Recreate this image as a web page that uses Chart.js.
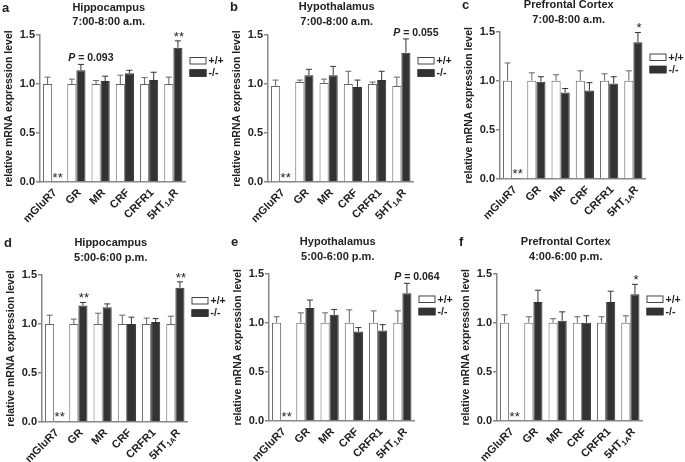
<!DOCTYPE html>
<html>
<head>
<meta charset="utf-8">
<script src="https://cdn.jsdelivr.net/npm/chart.js@4.4.0/dist/chart.umd.min.js"></script>
<style>
body { margin: 0; background: #fff; }
#wrap { position: relative; width: 685px; height: 462px; overflow: hidden; }
.panel { position: absolute; width: 228px; }
</style>
</head>
<body>
<div id="wrap"></div>
<script>
// genes on the x axis, "_" marks the subscript part
const categories = ['mGluR7', 'GR', 'MR', 'CRF', 'CRFR1', '5HT_1A_R'];
const yTicks = [0, 0.5, 1.0, 1.5];
const seriesNames = ['+/+', '-/-'];
const letters = ['a', 'b', 'c', 'd', 'e', 'f'];
const regions = ['Hippocampus', 'Hypothalamus', 'Prefrontal Cortex', 'Hippocampus', 'Hypothalamus', 'Prefrontal Cortex'];
const times = ['7:00-8:00 a.m.', '7:00-8:00 a.m.', '7:00-8:00 a.m.', '5:00-6:00 p.m.', '5:00-6:00 p.m.', '4:00-6:00 p.m.'];

// a - hippocampus morning
const hipAmWt = [1.0, 1.0, 1.0, 1.0, 1.0, 1.0];
const hipAmWtSem = [0.07, 0.05, 0.035, 0.09, 0.065, 0.07];
const hipAmKo = [0.005, 1.14, 1.03, 1.11, 1.04, 1.37];
const hipAmKoSem = [0, 0.06, 0.05, 0.03, 0.08, 0.07];
const hipAmMarks = [[0, 1, '**'], [1, 0, 'P = 0.093'], [5, 1, '**']];

// b - hypothalamus morning
const hypAmWt = [0.98, 1.02, 1.01, 1.0, 1.0, 0.98];
const hypAmWtSem = [0.06, 0.02, 0.04, 0.13, 0.02, 0.09];
const hypAmKo = [0.005, 1.09, 1.09, 0.97, 1.04, 1.32];
const hypAmKoSem = [0, 0.06, 0.09, 0.07, 0.09, 0.14];
const hypAmMarks = [[0, 1, '**'], [5, 0, 'P = 0.055']];

// c - prefrontal cortex morning
const pfcAmWt = [1.0, 1.0, 1.0, 1.0, 1.0, 1.0];
const pfcAmWtSem = [0.18, 0.08, 0.06, 0.10, 0.07, 0.10];
const pfcAmKo = [0.01, 0.99, 0.88, 0.90, 0.97, 1.39];
const pfcAmKoSem = [0, 0.05, 0.04, 0.08, 0.07, 0.10];
const pfcAmMarks = [[0, 1, '**'], [5, 1, '*']];

// d - hippocampus evening
const hipPmWt = [1.0, 1.0, 1.0, 1.0, 1.0, 1.0];
const hipPmWtSem = [0.09, 0.05, 0.11, 0.09, 0.06, 0.08];
const hipPmKo = [0.01, 1.19, 1.17, 1.0, 1.02, 1.37];
const hipPmKoSem = [0, 0.03, 0.035, 0.07, 0.035, 0.06];
const hipPmMarks = [[0, 1, '**'], [1, 1, '**'], [5, 1, '**']];

// e - hypothalamus evening
const hypPmWt = [1.0, 1.0, 1.0, 1.0, 1.0, 1.0];
const hypPmWtSem = [0.06, 0.10, 0.10, 0.13, 0.12, 0.12];
const hypPmKo = [0.005, 1.15, 1.08, 0.91, 0.92, 1.30];
const hypPmKoSem = [0, 0.08, 0.055, 0.04, 0.06, 0.10];
const hypPmMarks = [[0, 1, '**'], [5, 0, 'P = 0.064']];

// f - prefrontal cortex evening
const pfcPmWt = [1.0, 1.0, 1.0, 1.0, 1.0, 1.0];
const pfcPmWtSem = [0.08, 0.06, 0.04, 0.06, 0.06, 0.07];
const pfcPmKo = [0.005, 1.21, 1.02, 1.0, 1.21, 1.29];
const pfcPmKoSem = [0, 0.12, 0.09, 0.07, 0.11, 0.10];
const pfcPmMarks = [[0, 1, '**'], [5, 1, '*']];

const panels = [
    { wt: hipAmWt, wtSem: hipAmWtSem, ko: hipAmKo, koSem: hipAmKoSem, marks: hipAmMarks },
    { wt: hypAmWt, wtSem: hypAmWtSem, ko: hypAmKo, koSem: hypAmKoSem, marks: hypAmMarks },
    { wt: pfcAmWt, wtSem: pfcAmWtSem, ko: pfcAmKo, koSem: pfcAmKoSem, marks: pfcAmMarks },
    { wt: hipPmWt, wtSem: hipPmWtSem, ko: hipPmKo, koSem: hipPmKoSem, marks: hipPmMarks },
    { wt: hypPmWt, wtSem: hypPmWtSem, ko: hypPmKo, koSem: hypPmKoSem, marks: hypPmMarks },
    { wt: pfcPmWt, wtSem: pfcPmWtSem, ko: pfcPmKo, koSem: pfcPmKoSem, marks: pfcPmMarks }
];

// canvas offset on the page, top padding above the plot, y of the first title line
const placement = [
    { x: 0, y: 0, pad: 35, head: 7.5 },
    { x: 228, y: 0, pad: 35, head: 7 },
    { x: 460, y: 0, pad: 31.5, head: 5 },
    { x: 1.5, y: 230, pad: 45, head: 13 },
    { x: 229, y: 230, pad: 43.5, head: 12 },
    { x: 457, y: 230, pad: 43.5, head: 12 }
];

const FAMILY = "'Liberation Sans', Arial, sans-serif";
const INK = '#222';
const AXIS = '#888';

function drawXLabel(ctx, label, x, y) {
    const parts = label.split('_');
    const fonts = parts.map((s, i) => i % 2 ? 'bold 7.5px ' + FAMILY : 'bold 11px ' + FAMILY);
    const widths = parts.map((s, i) => { ctx.font = fonts[i]; return ctx.measureText(s).width; });
    const total = widths.reduce((a, b) => a + b, 0);
    ctx.save();
    ctx.translate(x, y);
    ctx.rotate(-Math.PI / 4);
    ctx.textAlign = 'left';
    ctx.textBaseline = 'middle';
    ctx.fillStyle = INK;
    let cx = -total;
    parts.forEach((s, i) => {
        ctx.font = fonts[i];
        ctx.fillText(s, cx, i % 2 ? 3 : 0);
        cx += widths[i];
    });
    ctx.restore();
}

function decor(idx, panel, place) {
    return {
        id: 'decor' + idx,
        afterDraw(chart) {
            const ctx = chart.ctx;
            const area = chart.chartArea;
            const yScale = chart.scales.y;
            const xScale = chart.scales.x;
            const sets = chart.data.datasets;
            ctx.save();

            // error bars (upper only)
            sets.forEach((ds, di) => {
                chart.getDatasetMeta(di).data.forEach((bar, i) => {
                    if (!ds.sem[i]) return;
                    const yTop = yScale.getPixelForValue(ds.data[i] + ds.sem[i]);
                    ctx.strokeStyle = ds.borderColor;
                    ctx.lineWidth = 1;
                    ctx.beginPath();
                    ctx.moveTo(bar.x, bar.y);
                    ctx.lineTo(bar.x, yTop);
                    ctx.moveTo(bar.x - 3, yTop);
                    ctx.lineTo(bar.x + 3, yTop);
                    ctx.stroke();
                });
            });

            // x tick labels
            categories.forEach((c, i) => {
                drawXLabel(ctx, c, xScale.getPixelForValue(i) + 3, area.bottom + 9);
            });

            // panel letter and titles
            const mid = (area.left + area.right) / 2 - 4;
            ctx.fillStyle = INK;
            ctx.textBaseline = 'middle';
            ctx.textAlign = 'left';
            ctx.font = 'bold 13px ' + FAMILY;
            ctx.fillText(letters[idx], 2, place.head + 0.5);
            ctx.textAlign = 'center';
            ctx.font = 'bold 11px ' + FAMILY;
            ctx.fillText(regions[idx], mid, place.head);
            ctx.fillText(times[idx], mid, place.head + 14.5);

            // legend
            const lx = area.right + 4;
            sets.forEach((ds, di) => {
                const ly = area.top + 22 + di * 12.3;
                ctx.fillStyle = ds.backgroundColor;
                ctx.fillRect(lx, ly, 17, 7.5);
                ctx.strokeStyle = di ? ds.borderColor : '#444';
                ctx.lineWidth = 1;
                ctx.strokeRect(lx + 0.5, ly + 0.5, 16, 6.5);
                ctx.fillStyle = INK;
                ctx.textAlign = 'left';
                ctx.font = 'bold 10.5px ' + FAMILY;
                ctx.fillText(ds.label, lx + 19, ly + 4.2);
            });

            // significance marks
            ctx.textBaseline = 'alphabetic';
            panel.marks.forEach(([i, di, text]) => {
                if (text.startsWith('P')) {
                    const bar0 = chart.getDatasetMeta(0).data[i];
                    const top = Math.min(...sets.map(d => yScale.getPixelForValue(d.data[i] + d.sem[i])));
                    const x = bar0.x - bar0.width / 2 + 1;
                    ctx.textAlign = 'left';
                    ctx.font = 'italic bold 10.5px ' + FAMILY;
                    ctx.fillText('P', x, top - 3);
                    const w = ctx.measureText('P').width;
                    ctx.font = 'bold 10.5px ' + FAMILY;
                    ctx.fillText(text.slice(1), x + w, top - 3);
                } else {
                    const bar = chart.getDatasetMeta(di).data[i];
                    const d = sets[di];
                    const top = yScale.getPixelForValue(d.data[i] + d.sem[i]);
                    ctx.textAlign = 'center';
                    ctx.font = '13px ' + FAMILY;
                    ctx.fillText(text, bar.x + 1, top);
                }
            });
            ctx.restore();
        }
    };
}

const wrap = document.getElementById('wrap');

panels.forEach((panel, idx) => {
    const place = placement[idx];
    const div = document.createElement('div');
    div.className = 'panel';
    div.style.left = place.x + 'px';
    div.style.top = place.y + 'px';
    const canvas = document.createElement('canvas');
    canvas.width = 228;
    canvas.height = Math.round(place.pad + 147 + 50);
    div.append(canvas);
    wrap.append(div);

    new Chart(canvas, {
        type: 'bar',
        data: {
            labels: categories,
            datasets: [{
                label: seriesNames[0],
                data: panel.wt,
                sem: panel.wtSem,
                backgroundColor: '#ffffff',
                borderColor: '#666666',
                borderWidth: 1
            }, {
                label: seriesNames[1],
                data: panel.ko,
                sem: panel.koSem,
                backgroundColor: '#333333',
                borderColor: '#333333',
                borderWidth: 1
            }]
        },
        options: {
            responsive: false,
            animation: false,
            layout: { padding: { top: place.pad, right: 42.5, left: 0, bottom: 0 } },
            datasets: { bar: { categoryPercentage: 0.75, barPercentage: 1.0 } },
            plugins: {
                legend: { display: false },
                tooltip: { enabled: false }
            },
            scales: {
                x: {
                    grid: { display: false },
                    border: { color: AXIS, width: 1.5 },
                    ticks: { display: false },
                    afterFit: (s) => { s.height = 50; }
                },
                y: {
                    min: 0,
                    max: 1.5,
                    afterBuildTicks: (s) => { s.ticks = yTicks.map(v => ({ value: v })); },
                    ticks: {
                        callback: (v) => Number(v).toFixed(1),
                        font: { family: FAMILY, size: 11, weight: 'bold' },
                        color: INK,
                        padding: 1
                    },
                    grid: { drawOnChartArea: false, tickLength: 4, color: AXIS, lineWidth: 1.5 },
                    border: { color: AXIS, width: 1.5 },
                    title: {
                        display: true,
                        text: 'relative mRNA expression level',
                        font: { family: FAMILY, size: 10.5, weight: 'bold' },
                        color: INK,
                        padding: { top: 3, bottom: 0 }
                    },
                    afterFit: (s) => { s.width = 40; }
                }
            }
        },
        plugins: [decor(idx, panel, place)]
    });
});
</script>
</body>
</html>
